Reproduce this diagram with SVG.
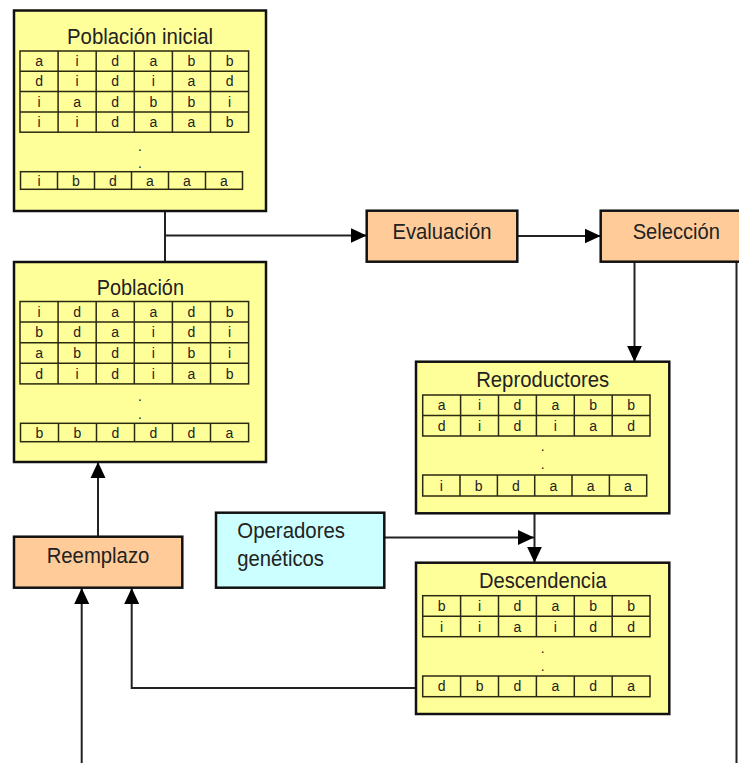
<svg xmlns="http://www.w3.org/2000/svg" width="739" height="763" viewBox="0 0 739 763">
<defs>
<style>
.box{stroke:#111;stroke-width:2.5}
.y{fill:#FFFF99}
.o{fill:#FFCC99}
.c{fill:#CCFFFF}
.tb{fill:none;stroke:#2a2a10;stroke-width:1.5}
.ti{font-family:"Liberation Sans",Arial,sans-serif;font-size:22px;fill:#222;text-anchor:middle}
.lb{font-family:"Liberation Sans",Arial,sans-serif;font-size:22px;fill:#222}
.ce{font-family:"Liberation Sans",Arial,sans-serif;font-size:14px;fill:#222;text-anchor:middle}
.cn{fill:none;stroke:#222;stroke-width:2}
</style>
<marker id="ah" markerUnits="userSpaceOnUse" markerWidth="16" markerHeight="16" viewBox="0 0 16 16" refX="16" refY="8" orient="auto">
<path d="M0,0.5 L16,8 L0,15.5 z" fill="#000"/>
</marker>
</defs>
<rect width="739" height="763" fill="#fff"/>

<g id="connectors">
<path class="cn" d="M165,211 V262"/>
<path class="cn" d="M165,235.5 H366.7" marker-end="url(#ah)"/>
<path class="cn" d="M517.3,236 H600.7" marker-end="url(#ah)"/>
<path class="cn" d="M634.5,261.7 V361.7" marker-end="url(#ah)"/>
<path class="cn" d="M736.5,261.7 V764 H81.7 V588" marker-end="url(#ah)"/>
<path class="cn" d="M98,536.7 V462" marker-end="url(#ah)"/>
<path class="cn" d="M416,688 H131.7 V588" marker-end="url(#ah)"/>
<path class="cn" d="M534.5,513.3 V562.7" marker-end="url(#ah)"/>
<path class="cn" d="M384.3,537.5 H534" marker-end="url(#ah)"/>
</g>

<g id="poblacion-inicial">
<rect class="box y" x="14" y="10.5" width="252" height="200.5"/>
<text class="ti" x="140" y="44" textLength="146" lengthAdjust="spacingAndGlyphs">Población inicial</text>
<rect class="tb" x="20" y="51" width="228.6" height="81.2"/>
<path class="tb" d="M20,71.3H248.6M20,91.6H248.6M20,111.9H248.6M58.1,51V132.2M96.2,51V132.2M134.3,51V132.2M172.4,51V132.2M210.5,51V132.2"/>
<g class="ce">
<text x="39.05" y="66">a</text><text x="77.15" y="66">i</text><text x="115.25" y="66">d</text><text x="153.35" y="66">a</text><text x="191.45" y="66">b</text><text x="229.55" y="66">b</text>
<text x="39.05" y="86.3">d</text><text x="77.15" y="86.3">i</text><text x="115.25" y="86.3">d</text><text x="153.35" y="86.3">i</text><text x="191.45" y="86.3">a</text><text x="229.55" y="86.3">d</text>
<text x="39.05" y="106.6">i</text><text x="77.15" y="106.6">a</text><text x="115.25" y="106.6">d</text><text x="153.35" y="106.6">b</text><text x="191.45" y="106.6">b</text><text x="229.55" y="106.6">i</text>
<text x="39.05" y="126.9">i</text><text x="77.15" y="126.9">i</text><text x="115.25" y="126.9">d</text><text x="153.35" y="126.9">a</text><text x="191.45" y="126.9">a</text><text x="229.55" y="126.9">b</text>
<text x="140" y="151">.</text><text x="140" y="168">.</text>
</g>
<rect class="tb" x="20.5" y="171.7" width="222" height="17.6"/>
<path class="tb" d="M57.5,171.7V189.3M94.5,171.7V189.3M131.5,171.7V189.3M168.5,171.7V189.3M205.5,171.7V189.3"/>
<g class="ce">
<text x="39" y="185.5">i</text><text x="76" y="185.5">b</text><text x="113" y="185.5">d</text><text x="150" y="185.5">a</text><text x="187" y="185.5">a</text><text x="224" y="185.5">a</text>
</g>
</g>

<g id="poblacion">
<rect class="box y" x="14" y="262" width="252" height="200"/>
<text class="ti" x="140.3" y="295" textLength="87.3" lengthAdjust="spacingAndGlyphs">Población</text>
<rect class="tb" x="20" y="301.5" width="228.6" height="82.4"/>
<path class="tb" d="M20,322.1H248.6M20,342.7H248.6M20,363.3H248.6M58.1,301.5V383.9M96.2,301.5V383.9M134.3,301.5V383.9M172.4,301.5V383.9M210.5,301.5V383.9"/>
<g class="ce">
<text x="39.05" y="316.8">i</text><text x="77.15" y="316.8">d</text><text x="115.25" y="316.8">a</text><text x="153.35" y="316.8">a</text><text x="191.45" y="316.8">d</text><text x="229.55" y="316.8">b</text>
<text x="39.05" y="337.4">b</text><text x="77.15" y="337.4">d</text><text x="115.25" y="337.4">a</text><text x="153.35" y="337.4">i</text><text x="191.45" y="337.4">d</text><text x="229.55" y="337.4">i</text>
<text x="39.05" y="358">a</text><text x="77.15" y="358">b</text><text x="115.25" y="358">d</text><text x="153.35" y="358">i</text><text x="191.45" y="358">b</text><text x="229.55" y="358">i</text>
<text x="39.05" y="378.6">d</text><text x="77.15" y="378.6">i</text><text x="115.25" y="378.6">d</text><text x="153.35" y="378.6">i</text><text x="191.45" y="378.6">a</text><text x="229.55" y="378.6">b</text>
<text x="140" y="401">.</text><text x="140" y="419">.</text>
</g>
<rect class="tb" x="20.5" y="423.3" width="228.1" height="18.4"/>
<path class="tb" d="M58.5,423.3V441.7M96.5,423.3V441.7M134.5,423.3V441.7M172.5,423.3V441.7M210.5,423.3V441.7"/>
<g class="ce">
<text x="39.5" y="437.5">b</text><text x="77.5" y="437.5">b</text><text x="115.5" y="437.5">d</text><text x="153.5" y="437.5">d</text><text x="191.5" y="437.5">d</text><text x="229.5" y="437.5">a</text>
</g>
</g>

<g id="evaluacion">
<rect class="box o" x="366.7" y="210.7" width="150.6" height="51"/>
<text class="ti" x="442" y="238.5" textLength="99" lengthAdjust="spacingAndGlyphs">Evaluación</text>
</g>

<g id="seleccion">
<rect class="box o" x="600.7" y="210.7" width="142" height="51"/>
<text class="ti" x="676.3" y="238.5" textLength="87.3" lengthAdjust="spacingAndGlyphs">Selección</text>
</g>

<g id="reproductores">
<rect class="box y" x="416" y="361.7" width="253.3" height="151.6"/>
<text class="ti" x="542.7" y="387" textLength="133" lengthAdjust="spacingAndGlyphs">Reproductores</text>
<rect class="tb" x="422.7" y="395" width="227.3" height="41"/>
<path class="tb" d="M422.7,415.5H650M460.6,395V436M498.5,395V436M536.4,395V436M574.3,395V436M612.2,395V436"/>
<g class="ce">
<text x="441.65" y="410.2">a</text><text x="479.55" y="410.2">i</text><text x="517.45" y="410.2">d</text><text x="555.35" y="410.2">a</text><text x="593.25" y="410.2">b</text><text x="631.15" y="410.2">b</text>
<text x="441.65" y="430.7">d</text><text x="479.55" y="430.7">i</text><text x="517.45" y="430.7">d</text><text x="555.35" y="430.7">i</text><text x="593.25" y="430.7">a</text><text x="631.15" y="430.7">d</text>
<text x="542.7" y="451">.</text><text x="542.7" y="469">.</text>
</g>
<rect class="tb" x="422.7" y="475" width="224" height="21"/>
<path class="tb" d="M460,475V496M497.4,475V496M534.7,475V496M572,475V496M609.4,475V496"/>
<g class="ce">
<text x="441.4" y="490.5">i</text><text x="478.7" y="490.5">b</text><text x="516" y="490.5">d</text><text x="553.4" y="490.5">a</text><text x="590.7" y="490.5">a</text><text x="628" y="490.5">a</text>
</g>
</g>

<g id="operadores">
<rect class="box c" x="216" y="512.7" width="168.3" height="75"/>
<text class="lb" x="237.3" y="538.3" textLength="107.7" lengthAdjust="spacingAndGlyphs">Operadores</text>
<text class="lb" x="237.3" y="566" textLength="86.7" lengthAdjust="spacingAndGlyphs">genéticos</text>
</g>

<g id="descendencia">
<rect class="box y" x="416" y="562.7" width="253.3" height="151.3"/>
<text class="ti" x="542.8" y="588.3" textLength="127.7" lengthAdjust="spacingAndGlyphs">Descendencia</text>
<rect class="tb" x="422.7" y="595.7" width="227.3" height="41"/>
<path class="tb" d="M422.7,616.2H650M460.6,595.7V636.7M498.5,595.7V636.7M536.4,595.7V636.7M574.3,595.7V636.7M612.2,595.7V636.7"/>
<g class="ce">
<text x="441.65" y="611">b</text><text x="479.55" y="611">i</text><text x="517.45" y="611">d</text><text x="555.35" y="611">a</text><text x="593.25" y="611">b</text><text x="631.15" y="611">b</text>
<text x="441.65" y="631.5">i</text><text x="479.55" y="631.5">i</text><text x="517.45" y="631.5">a</text><text x="555.35" y="631.5">i</text><text x="593.25" y="631.5">d</text><text x="631.15" y="631.5">d</text>
<text x="542.7" y="652.7">.</text><text x="542.7" y="671">.</text>
</g>
<rect class="tb" x="422.7" y="676" width="227.3" height="20.7"/>
<path class="tb" d="M460.6,676V696.7M498.5,676V696.7M536.4,676V696.7M574.3,676V696.7M612.2,676V696.7"/>
<g class="ce">
<text x="441.65" y="691.3">d</text><text x="479.55" y="691.3">b</text><text x="517.45" y="691.3">d</text><text x="555.35" y="691.3">a</text><text x="593.25" y="691.3">d</text><text x="631.15" y="691.3">a</text>
</g>
</g>

<g id="reemplazo">
<rect class="box o" x="14" y="536.7" width="168.3" height="51"/>
<text class="ti" x="98" y="563.3" textLength="102.7" lengthAdjust="spacingAndGlyphs">Reemplazo</text>
</g>
</svg>
